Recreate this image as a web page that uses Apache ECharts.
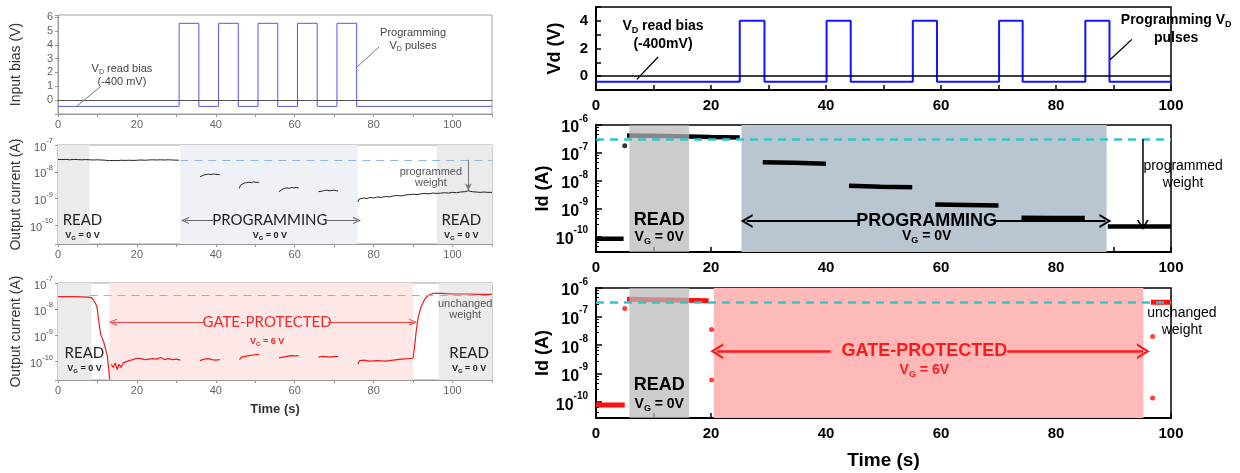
<!DOCTYPE html>
<html><head><meta charset="utf-8">
<script src="https://cdn.jsdelivr.net/npm/echarts@6/dist/echarts.min.js"></script>
<style>html,body{margin:0;padding:0;background:#fff}#c{width:1240px;height:473px}</style>
</head><body><div id="c"></div>
<script>
// ================= DATA =================
// Left column, panel 1: input bias (V) vs time (s)
const leftBiasTime = [0,30.7,30.7,35.7,35.7,40.7,40.7,45.7,45.7,50.7,50.7,55.7,55.7,60.7,60.7,65.7,65.7,70.7,70.7,75.7,75.7,110];
const leftBiasVolt = [-0.45,-0.45,5.55,5.55,-0.45,-0.45,5.55,5.55,-0.45,-0.45,5.55,5.55,-0.45,-0.45,5.55,5.55,-0.45,-0.45,5.55,5.55,-0.45,-0.45];
// Right column, panel 1: Vd (V) vs time (s)
const rightBiasTime = [0,25,25,29.3,29.3,40.1,40.1,44.3,44.3,55.1,55.1,59.3,59.3,70.1,70.1,74.2,74.2,85.1,85.1,89.3,89.3,100];
const rightBiasVolt = [-0.4,-0.4,4,4,-0.4,-0.4,4,4,-0.4,-0.4,4,4,-0.4,-0.4,4,4,-0.4,-0.4,4,4,-0.4,-0.4];

// Left column, panel 2: output current (A) during programming (null = gap)
const leftProgTime = [0,1,2,3,4,5,6,7,8,9,10,11,12,13,14,15,16,17,18,19,20,21,22,23,24,25,26,27,28,29,30.6,33,
  36,36.4,37,37.6,38.2,38.8,39.4,40,40.6,41,43.5,
  46,46.2,46.6,47.2,47.8,48.4,49,49.6,50.2,50.8,51,53.5,
  56,56.3,56.8,57.4,58,58.6,59.2,59.8,60.4,61,63.5,
  66,66.5,67,67.6,68.2,68.8,69.4,70,70.6,71,73.5,
  76,76.3,76.8,77.5,78.3,79,80,81,82,83,84,85,86,87,88,89,90,91,92,93,94,95,96,97,98,99,100,101,102,103,104,105,106,107,108,109,110];
const leftProgCurrent = [2.9e-8,2.85e-8,2.9e-8,2.8e-8,2.9e-8,2.85e-8,2.8e-8,2.85e-8,2.8e-8,2.75e-8,
  2.8e-8,2.75e-8,2.7e-8,2.6e-8,2.65e-8,2.6e-8,2.7e-8,2.65e-8,2.7e-8,2.65e-8,
  2.7e-8,2.75e-8,2.7e-8,2.75e-8,2.8e-8,2.75e-8,2.8e-8,2.75e-8,2.8e-8,2.75e-8,2.7e-8,null,
  6.5e-9,7.2e-9,7.6e-9,7.9e-9,8.2e-9,7.9e-9,8.3e-9,8.0e-9,7.8e-9,7.9e-9,null,
  2.4e-9,3.1e-9,3.5e-9,3.8e-9,3.9e-9,4.1e-9,3.9e-9,4.2e-9,4.0e-9,4.1e-9,3.8e-9,null,
  1.8e-9,2.1e-9,2.2e-9,2.4e-9,2.5e-9,2.4e-9,2.6e-9,2.5e-9,2.6e-9,2.5e-9,null,
  1.8e-9,1.95e-9,1.9e-9,2.0e-9,2.05e-9,1.95e-9,2.0e-9,2.05e-9,1.95e-9,1.9e-9,null,
  7.5e-10,9.5e-10,1.0e-9,1.05e-9,1.0e-9,1.1e-9,
  1.05e-9,1.15e-9,1.1e-9,1.2e-9,1.15e-9,1.25e-9,1.3e-9,1.25e-9,1.35e-9,1.4e-9,
  1.45e-9,1.4e-9,1.5e-9,1.55e-9,1.5e-9,1.6e-9,1.55e-9,1.6e-9,1.65e-9,1.6e-9,
  1.7e-9,1.65e-9,1.75e-9,1.8e-9,1.95e-9,1.8e-9,1.75e-9,1.7e-9,1.75e-9,1.7e-9,1.7e-9];

// Left column, panel 3: output current (A) gate-protected
const leftGateTime = [0,2,4,6,7.5,8.6,9.4,9.9,10.3,10.8,11.6,12.5,13.1,13.3,
  13.5,14,14.5,15,15.5,16,16.5,17,18,19,20,21,22,23,24,25,26,27,28,29,30,31,33.5,
  36,37,38,39,40,41,43.5,
  46,46.5,47.5,48.5,49.5,50.5,51,53.5,
  56,57,58,59,60,61,63.5,
  66,67,68,69,70,71,73.5,
  76,76.5,77.5,79,81,83,85,87,89,90,90.3,90.8,91.3,92,93,94,95,97,100,104,107,110];
const leftGateCurrent = [3.0e-8,3.0e-8,3.0e-8,2.95e-8,2.9e-8,2.7e-8,1.8e-8,1.2e-8,3.8e-9,1.1e-9,5.5e-10,1.7e-10,2.1e-11,null,
  8e-11,6e-11,9e-11,5e-11,8e-11,6e-11,9e-11,1.0e-10,1.1e-10,1.2e-10,1.35e-10,1.3e-10,1.2e-10,1.25e-10,1.3e-10,1.25e-10,1.45e-10,1.2e-10,1.3e-10,1.2e-10,1.25e-10,1.15e-10,null,
  1.1e-10,1.25e-10,1.3e-10,1.2e-10,1.15e-10,1.2e-10,null,
  1.2e-10,1.5e-10,1.6e-10,1.7e-10,1.8e-10,1.9e-10,1.75e-10,null,
  1.4e-10,1.5e-10,1.6e-10,1.7e-10,1.65e-10,1.7e-10,null,
  1.5e-10,1.6e-10,1.55e-10,1.5e-10,1.6e-10,1.55e-10,null,
  8e-11,1.1e-10,1.15e-10,1.05e-10,1.1e-10,1.05e-10,1.15e-10,1.25e-10,1.3e-10,1.35e-10,
  3e-10,1.5e-9,5e-9,1.2e-8,2.5e-8,3.5e-8,4.0e-8,4.0e-8,3.8e-8,3.8e-8,3.7e-8,3.7e-8];

// Right column, panel 2: Id (A) programming
const rightProgTime = [0,4.8,4.9, 5.4,10,16,20,25,27, 29,34.5,40,42, 44,49.5,55,57, 59,64.5,70,72, 74,79.5,85,87, 89,100];
const rightProgCurrent = [8.3e-11,8.3e-11,null, 4.2e-7,4.1e-7,3.9e-7,3.7e-7,3.6e-7,null, 4.6e-8,4.4e-8,4.1e-8,null,
  6.6e-9,6.1e-9,5.9e-9,null, 1.4e-9,1.35e-9,1.3e-9,null, 4.7e-10,4.65e-10,4.6e-10,null, 2.3e-10,2.3e-10];
const rightProgDotTime = [5];
const rightProgDotCurrent = [1.8e-7];

// Right column, panel 3: Id (A) gate-protected
const rightGateTime = [0,5,5.1, 5.4,10,16,19.6,21, 96.5,100];
const rightGateCurrent = [8e-11,8e-11,null, 4.0e-7,3.9e-7,3.7e-7,3.6e-7,null, 3.2e-7,3.2e-7];
const rightGateDotTime = [5,20.1,20.1,96.8,96.8];
const rightGateDotCurrent = [1.9e-7,3.5e-8,6e-10,2e-8,1.4e-10];

// shaded phases (time ranges, s)
const leftReadBandsProg = [[0,8],[96,110]];
const leftProgBands = [[31,76]];
const leftReadBandsGate = [[0,8.5],[96.5,110]];
const leftGateBands = [[13,90]];
const rightReadBands = [[5.8,16.2]];
const rightProgBands = [[25.3,88.8]];
const rightGateBands = [[20.5,95.2]];

// reference levels
const leftRefProg = 2.8e-8, leftRefGate = 3.3e-8, rightRefLevel = 3.1e-7;

// tick labels
const leftTimeLabels = [0,20,40,60,80,100];
const rightTimeLabels = [0,20,40,60,80,100];
const leftBiasLabels = [0,1,2,3,4,5,6];
const rightBiasLabels = [0,2,4];
const leftDecades = [-10,-9,-8,-7];
const rightDecades = [-10,-9,-8,-7,-6];

// ================= CHART =================
const FONT = "'Liberation Sans', Arial, sans-serif";
const LFONT = "Lato, 'Open Sans', sans-serif";
const CHEV = 'path://M0,10 L5,0 L10,10 L8.4,10 L5,3.2 L1.6,10 Z';

function pts(xs, ys){ return xs.map((x,i)=>[x, ys[i]===null ? '-' : ys[i]]); }
function tok(size, weight, color, family, extra){
  return Object.assign({fontSize:size, fontWeight:weight, fill:color, color:color, fontFamily:family}, extra||{});
}
function near(v, list){ return list.some(t => Math.abs(v - t) < 1e-6); }

function bandSeries(g, list, color, z, refY){
  return {type:'custom', xAxisIndex:g, yAxisIndex:g, z:z, silent:true, animation:false, clip:true,
    data:list, encode:{x:[0,1]},
    renderItem:(params, api)=>{
      const cs = params.coordSys;
      const a = api.coord([api.value(0), refY])[0];
      const b = api.coord([api.value(1), refY])[0];
      return {type:'rect', shape:{x:a, y:cs.y, width:b-a, height:cs.height}, style:{fill:color}};
    }};
}
function lineSeries(g, data, color, width, z){
  return {type:'line', xAxisIndex:g, yAxisIndex:g, data:data, showSymbol:false, symbol:'none',
    lineStyle:{color:color, width:width}, itemStyle:{color:color}, z:z, connectNulls:false,
    animation:false, silent:true, emphasis:{disabled:true}};
}
function dotSeries(g, data, color, size, z){
  return {type:'scatter', xAxisIndex:g, yAxisIndex:g, data:data, symbolSize:size,
    itemStyle:{color:color}, z:z, silent:true, animation:false, emphasis:{disabled:true}};
}
function ml(from, to, color, width, head, size, dashed){
  return [{coord:from, symbol:'none', lineStyle:{color:color, width:width, type: dashed ? [8,6] : 'solid'}},
          {coord:to, symbol: head || 'none', symbolSize: size || 8, itemStyle:{color:color}}];
}
function markSeries(g, items){
  return {type:'line', xAxisIndex:g, yAxisIndex:g, data:[], silent:true, animation:false,
    markLine:{silent:true, symbol:['none','none'], label:{show:false}, animation:false,
      lineStyle:{type:'solid'}, emphasis:{disabled:true}, data:items}};
}

const leftLog = v => {
  const e = Math.log10(v), r = Math.round(e);
  return (Math.abs(e - r) < 0.02 && leftDecades.includes(r)) ? '{b|10}{s|' + r + '}' : '';
};
const rightLog = v => {
  const e = Math.log10(v), r = Math.round(e);
  return (Math.abs(e - r) < 0.02 && rightDecades.includes(r)) ? '{b|10}{s|' + r + '}' : '';
};
const leftRich = {b: tok(11,'normal','#555',FONT,{lineHeight:16, verticalAlign:'bottom'}),
                  s: tok(7.5,'normal','#555',FONT,{lineHeight:8, verticalAlign:'top'})};
const rightRich = {b: tok(16,'bold','#000',FONT,{lineHeight:22, verticalAlign:'bottom'}),
                   s: tok(10,'bold','#000',FONT,{lineHeight:10, verticalAlign:'top'})};

const grids = [
  {left:58, top:15, width:434, height:99},
  {left:58, top:145, width:434, height:99},
  {left:58, top:283, width:434, height:97},
  {left:596, top:7, width:575, height:83},
  {left:596, top:125, width:575, height:127},
  {left:596, top:288, width:575, height:130}
].map((g,i)=>Object.assign(g, {show:true, outerBoundsMode:'none', containLabel:false,
  borderColor: i<3 ? '#a0a0a0' : '#000', borderWidth: i<3 ? 1 : 1.5, backgroundColor:'transparent'}));

function leftX(i, name){
  return {type:'value', gridIndex:i, min:0, max:110, interval:10,
    axisLine:{onZero:false, lineStyle:{color:'#999', width:1}},
    axisTick:{show:true, inside:false, length:3, lineStyle:{color:'#999'}},
    splitLine:{show:false},
    axisLabel:{formatter: v => near(v, leftTimeLabels) ? String(v) : '', color:'#666', fontSize:11, fontFamily:FONT, margin:5},
    name: name || '', nameLocation:'middle', nameGap:23,
    nameTextStyle:{fontSize:13, fontFamily:FONT, color:'#333', fontWeight:'bold'}};
}
function rightX(i, name){
  return {type:'value', gridIndex:i, min:0, max:100, interval:10,
    axisLine:{onZero:false, lineStyle:{color:'#000', width:2}},
    axisTick:{show:true, inside:true, length:5, lineStyle:{color:'#000', width:1.5}},
    splitLine:{show:false},
    axisLabel:{formatter: v => near(v, rightTimeLabels) ? String(v) : '', color:'#000', fontSize:15, fontWeight:'bold', fontFamily:FONT, margin:8},
    name: name || '', nameLocation:'middle', nameGap:33,
    nameTextStyle:{fontSize:19, fontFamily:FONT, color:'#000', fontWeight:'bold'}};
}
function leftYName(name){ return {name:name, nameLocation:'middle', nameGap:35, nameRotate:90,
  nameTextStyle:{fontSize:14, fontFamily:FONT, color:'#333'}}; }
function rightYName(name){ return {name:name, nameLocation:'middle', nameGap:32, nameRotate:90,
  nameTextStyle:{fontSize:18, fontFamily:FONT, color:'#000', fontWeight:'bold'}}; }

const yAxes = [
  Object.assign({type:'value', gridIndex:0, min:-1, max:6.15, interval:1,
    axisLine:{lineStyle:{color:'#999'}}, axisTick:{show:true, length:3, lineStyle:{color:'#999'}},
    splitLine:{show:false},
    axisLabel:{formatter: v => near(v, leftBiasLabels) ? String(Math.round(v)) : '', color:'#666', fontSize:11, fontFamily:FONT, margin:5}},
    leftYName('Input bias (V)')),
  Object.assign({type:'log', logBase:10, gridIndex:1, min:2e-11, max:1e-7,
    axisLine:{lineStyle:{color:'#999'}}, axisTick:{show:true, length:3, lineStyle:{color:'#999'}},
    splitLine:{show:false},
    axisLabel:{formatter:leftLog, rich:leftRich, margin:5}}, leftYName('Output current (A)')),
  Object.assign({type:'log', logBase:10, gridIndex:2, min:2e-11, max:1e-7,
    axisLine:{lineStyle:{color:'#999'}}, axisTick:{show:true, length:3, lineStyle:{color:'#999'}},
    splitLine:{show:false},
    axisLabel:{formatter:leftLog, rich:leftRich, margin:5}}, leftYName('Output current (A)')),
  Object.assign({type:'value', gridIndex:3, min:-1, max:5, interval:1,
    axisLine:{lineStyle:{color:'#000', width:2}}, axisTick:{show:true, inside:true, length:5, lineStyle:{color:'#000', width:1.5}},
    splitLine:{show:false},
    axisLabel:{formatter: v => near(v, rightBiasLabels) ? String(Math.round(v)) : '', color:'#000', fontSize:15, fontWeight:'bold', fontFamily:FONT, margin:8}},
    rightYName('Vd (V)')),
  Object.assign({type:'log', logBase:10, gridIndex:4, min:2.8e-11, max:1e-6,
    axisLine:{lineStyle:{color:'#000', width:2}}, axisTick:{show:true, inside:true, length:6, lineStyle:{color:'#000', width:1.5}},
    minorTick:{show:true, splitNumber:5, length:3, lineStyle:{color:'#000'}},
    splitLine:{show:false},
    axisLabel:{formatter:rightLog, rich:rightRich, margin:8}}, rightYName('Id (A)')),
  Object.assign({type:'log', logBase:10, gridIndex:5, min:2.8e-11, max:1e-6,
    axisLine:{lineStyle:{color:'#000', width:2}}, axisTick:{show:true, inside:true, length:6, lineStyle:{color:'#000', width:1.5}},
    minorTick:{show:true, splitNumber:5, length:3, lineStyle:{color:'#000'}},
    splitLine:{show:false},
    axisLabel:{formatter:rightLog, rich:rightRich, margin:8}}, rightYName('Id (A)'))
];

const xAxes = [leftX(0), leftX(1), leftX(2,'Time (s)'), rightX(3), rightX(4), rightX(5,'Time (s)')];

const series = [
  // ---- left panel 1
  lineSeries(0, pts(leftBiasTime, leftBiasVolt), '#5656f2', 1, 3),
  markSeries(0, [
    ml([0,0],[110,0],'#555',1),
    ml([4.8,-0.43],[10.6,0.94],'#777',1),
    ml([75.8,2.4],[81.4,3.85],'#777',1)
  ]),
  // ---- left panel 2
  bandSeries(1, leftReadBandsProg, '#ebebeb', 1, 1e-8),
  bandSeries(1, leftProgBands, '#eef2f7', 1, 1e-8),
  lineSeries(1, pts(leftProgTime, leftProgCurrent), '#222', 1, 3),
  markSeries(1, [
    ml([31,leftRefProg],[110,leftRefProg],'#8fb4e6',1,null,null,true),
    ml([39.3,1.5e-10],[32.2,1.5e-10],'#666',1,CHEV,[7,8]),
    ml([68.2,1.5e-10],[75.8,1.5e-10],'#666',1,CHEV,[7,8]),
    ml([104,leftRefProg],[104,2.0e-9],'#777',1,'arrow',[5,7])
  ]),
  // ---- left panel 3
  bandSeries(2, leftReadBandsGate, '#ebebeb', 1, 1e-8),
  bandSeries(2, leftGateBands, '#fde7e7', 1, 1e-8),
  lineSeries(2, pts(leftGateTime, leftGateCurrent), '#f01c1c', 1.2, 3),
  markSeries(2, [
    ml([8,leftRefGate],[110,leftRefGate],'#8fb4e6',1,null,null,true),
    ml([37.3,3.2e-9],[13.9,3.2e-9],'#f04040',1,CHEV,[7,8]),
    ml([68.4,3.2e-9],[90,3.2e-9],'#f04040',1,CHEV,[7,8])
  ]),
  // ---- right panel 1
  lineSeries(3, pts(rightBiasTime, rightBiasVolt), '#1414ff', 2, 3),
  markSeries(3, [
    ml([0,0],[100,0],'#000',1.5),
    ml([7.1,-0.23],[10.8,1.39],'#000',1.3),
    ml([89.4,1.18],[93.2,2.66],'#000',1.3)
  ]),
  // ---- right panel 2
  bandSeries(4, rightProgBands, '#b9c5d1', 1, 1e-8),
  lineSeries(4, pts(rightProgTime, rightProgCurrent), '#000', 4.5, 3),
  dotSeries(4, pts(rightProgDotTime, rightProgDotCurrent), '#000', 5, 3),
  bandSeries(4, rightReadBands, 'rgba(185,185,185,0.73)', 4, 1e-8),
  markSeries(4, [
    ml([0,rightRefLevel],[100,rightRefLevel],'#33c6c6',2.5,null,null,true),
    ml([45.6,3.6e-10],[26.2,3.6e-10],'#000',2,CHEV,[14,12]),
    ml([69.5,3.6e-10],[88.6,3.6e-10],'#000',2,CHEV,[14,12]),
    ml([95.1,rightRefLevel],[95.1,2.6e-10],'#000',1.5,CHEV,[12,10])
  ]),
  // ---- right panel 3
  bandSeries(5, rightGateBands, '#ffb9b9', 1, 1e-8),
  lineSeries(5, pts(rightGateTime, rightGateCurrent), '#ff1010', 5, 3),
  dotSeries(5, pts(rightGateDotTime, rightGateDotCurrent), '#ff1010', 5, 3),
  bandSeries(5, rightReadBands, 'rgba(185,185,185,0.73)', 4, 1e-8),
  markSeries(5, [
    ml([0,rightRefLevel],[100,rightRefLevel],'#33c6c6',2.5,null,null,true),
    ml([40.8,6.1e-9],[21,6.1e-9],'#ff1a1a',2.5,CHEV,[16,13]),
    ml([71.5,6.1e-9],[95.2,6.1e-9],'#ff1a1a',2.5,CHEV,[16,13])
  ])
];

const chart = echarts.init(document.getElementById('c'), null, {renderer:'canvas'});
chart.setOption({animation:false, backgroundColor:'#fff', grid:grids, xAxis:xAxes, yAxis:yAxes, series:series});

// ================= TEXT ANNOTATIONS =================
const R = {
  la: tok(11,'normal','#444',FONT,{lineHeight:13}),
  ld: tok(7,'normal','#444',FONT,{lineHeight:7, verticalAlign:'bottom'}),
  lr: tok(15,'normal','#222',LFONT),
  lv: tok(9,'bold','#222',FONT,{lineHeight:11}),
  lvs: tok(6,'bold','#222',FONT,{lineHeight:6, verticalAlign:'bottom'}),
  lrr: tok(15,'normal','#f02a2a',LFONT),
  lvr: tok(9,'bold','#f02a2a',FONT,{lineHeight:11}),
  lvsr: tok(6,'bold','#f02a2a',FONT,{lineHeight:6, verticalAlign:'bottom'}),
  lp: tok(11,'normal','#555',FONT,{lineHeight:11}),
  ra: tok(14,'bold','#000',FONT,{lineHeight:18}),
  rd: tok(9,'bold','#000',FONT,{lineHeight:9, verticalAlign:'bottom'}),
  rr: tok(18,'bold','#000',FONT),
  rv: tok(14,'bold','#000',FONT,{lineHeight:18}),
  rvs: tok(9,'bold','#000',FONT,{lineHeight:9, verticalAlign:'bottom'}),
  rg: tok(18,'bold','#ff1a1a',FONT),
  rgv: tok(14,'bold','#ff1a1a',FONT,{lineHeight:18}),
  rgvs: tok(9,'bold','#ff1a1a',FONT,{lineHeight:9, verticalAlign:'bottom'}),
  rp: tok(14,'normal','#000',FONT,{lineHeight:17})
};
const notes = [
  {g:0, x:16.2, y:1.75, t:'{la|V}{ld|D}{la| read bias}\n{la|(-400 mV)}'},
  {g:0, x:90, y:4.36, t:'{la|Programming}\n{la|V}{ld|D}{la| pulses}'},
  {g:1, x:6.2, y:1.5e-10, t:'{lr|READ}'},
  {g:1, x:6.2, y:4.2e-11, t:'{lv|V}{lvs|G}{lv| = 0 V}'},
  {g:1, x:102.2, y:1.5e-10, t:'{lr|READ}'},
  {g:1, x:102.2, y:4.2e-11, t:'{lv|V}{lvs|G}{lv| = 0 V}'},
  {g:1, x:53.7, y:1.5e-10, t:'{lr|PROGRAMMING}'},
  {g:1, x:53.7, y:4.2e-11, t:'{lv|V}{lvs|G}{lv| = 0 V}'},
  {g:1, x:94.5, y:5.9e-9, t:'{lp|programmed}\n{lp|weight}'},
  {g:2, x:6.7, y:2.2e-10, t:'{lr|READ}'},
  {g:2, x:6.7, y:5.4e-11, t:'{lv|V}{lvs|G}{lv| = 0 V}'},
  {g:2, x:104.2, y:2.2e-10, t:'{lr|READ}'},
  {g:2, x:104.2, y:5.4e-11, t:'{lv|V}{lvs|G}{lv| = 0 V}'},
  {g:2, x:53, y:3.2e-9, t:'{lrr|GATE-PROTECTED}'},
  {g:2, x:53, y:5.9e-10, t:'{lvr|V}{lvsr|G}{lvr| = 6 V}'},
  {g:2, x:103.2, y:1e-8, t:'{lp|unchanged}\n{lp|weight}'},
  {g:3, x:11.65, y:3.0, t:'{ra|V}{rd|D}{ra| read bias}\n{ra|(-400mV)}'},
  {g:3, x:100.9, y:3.4, t:'{ra|Programming V}{rd|D}\n{ra|pulses}'},
  {g:4, x:11, y:4e-10, t:'{rr|READ}'},
  {g:4, x:11, y:9.8e-11, t:'{rv|V}{rvs|G}{rv| = 0V}'},
  {g:4, x:57.5, y:3.6e-10, t:'{rr|PROGRAMMING}'},
  {g:4, x:57.5, y:1.05e-10, t:'{rv|V}{rvs|G}{rv| = 0V}'},
  {g:4, x:102.1, y:1.6e-8, t:'{rp|programmed}\n{rp|weight}'},
  {g:5, x:11, y:4e-10, t:'{rr|READ}'},
  {g:5, x:11, y:8.5e-11, t:'{rv|V}{rvs|G}{rv| = 0V}'},
  {g:5, x:57.1, y:6.1e-9, t:'{rg|GATE-PROTECTED}'},
  {g:5, x:57.1, y:1.3e-9, t:'{rgv|V}{rgvs|G}{rgv| = 6V}'},
  {g:5, x:101.9, y:6.4e-8, t:'{rp|unchanged}\n{rp|weight}'}
];
const elements = notes.map(n => {
  const p = chart.convertToPixel({gridIndex:n.g}, [n.x, n.y]);
  return {type:'text', x:p[0], y:p[1], z:100, silent:true,
    style:{text:n.t, rich:R, align:'center', verticalAlign:'middle', fontFamily:FONT, fontSize:12, fill:'#000'}};
});
chart.setOption({graphic:{elements:elements}});
</script></body></html>
